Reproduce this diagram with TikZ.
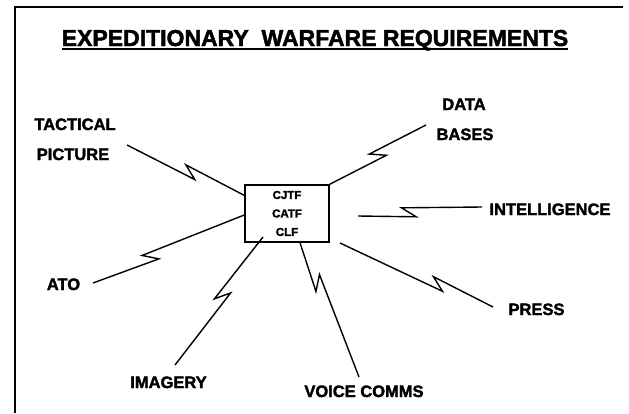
\documentclass[tikz,border=0pt]{standalone}
\usepackage{fontspec}
\setmainfont{Liberation Sans}[BoldFeatures={FakeBold=2}]
\usetikzlibrary{calc}
\begin{document}
\begin{tikzpicture}[x=1pt,y=-1pt,
  lbl/.style={font=\fontsize{16.5}{18}\selectfont\bfseries, inner sep=0pt, anchor=base},
  wire/.style={line width=1.4pt, line join=miter},
  bolt/.style args={#1/#2/#3}{wire, to path={
     -- ($(\tikztostart)!#1!(\tikztotarget)!7pt!(\tikztotarget)!5pt!#2:(\tikztotarget)$)
     -- ($(\tikztostart)!#1!(\tikztotarget)!7pt!180:(\tikztotarget)!5pt!#3:(\tikztotarget)$)
     -- (\tikztotarget)}},
  frame/.style={line width=2pt}
]
\useasboundingbox (0,0) rectangle (629,413);
% frame
\draw[frame] (15,413) -- (15,7) -- (623,7);
% title
\node[font=\fontsize{23}{26}\selectfont\bfseries, inner sep=0pt, anchor=base] (title) at (315,46) {EXPEDITIONARY\ \ WARFARE REQUIREMENTS};
\draw[line width=2.4pt] ($(title.base west)+(0,3)$) -- ($(title.base east)+(0,3)$);
% central box
\node[draw, line width=1.4pt, minimum width=84pt, minimum height=57pt, inner sep=0pt,
      align=center, font=\fontsize{11.5}{18.5}\selectfont\bfseries] (box) at (287,213.5) {CJTF\\CATF\\CLF};
% labels
\node[lbl] (tact) at (75,130) {TACTICAL};
\node[lbl] (pict) at (73,160) {PICTURE};
\node[lbl] (data) at (464,110) {DATA};
\node[lbl] (bases) at (465,140) {BASES};
\node[lbl] (intel) at (550,215) {INTELLIGENCE};
\node[lbl] (ato) at (63.5,290) {ATO};
\node[lbl] (imag) at (168.5,388) {IMAGERY};
\node[lbl] (voice) at (364,397) {VOICE COMMS};
\node[lbl] (press) at (536.5,315) {PRESS};
% connector ends
\coordinate (tpE) at (127,145);
\coordinate (atoE) at (93,283);
\coordinate (imS) at (263,237);
\coordinate (imE) at (175,365);
\coordinate (vcE) at (359,377);
\coordinate (inS) at (358,216);
\coordinate (inE) at (482,207);
\coordinate (prS) at (340,243);
\coordinate (prE) at (493,307);
\coordinate (dbE) at (426,125);
% connectors
\draw[bolt=0.46/-90/90] (box.157.4) to (tpE);
\draw[bolt=0.62/-90/90] (box.182) to (atoE);
\draw[bolt=0.46/-90/90] (imS) to (imE);
\draw[bolt=0.30/-90/90] (box.294.5) to (vcE);
\draw[bolt=0.41/-90/90] (inS) to (inE);
\draw[bolt=0.64/-90/90] (prS) to (prE);
\draw[bolt=0.50/-90/90] (box.north east) to (dbE);
\end{tikzpicture}
\end{document}
